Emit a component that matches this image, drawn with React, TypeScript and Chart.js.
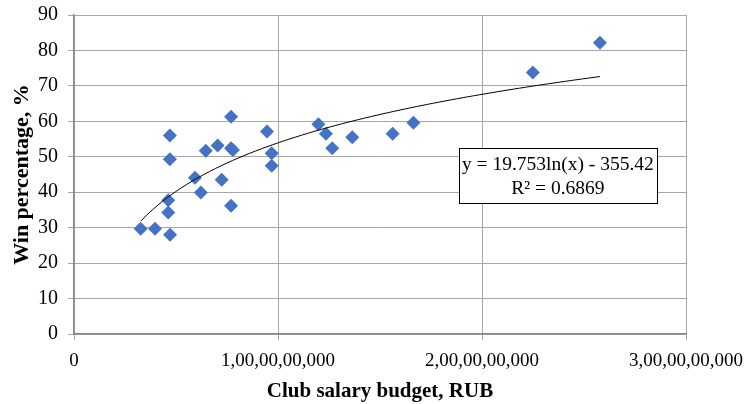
import React, { useEffect, useRef } from 'react';
import { Chart, registerables } from 'chart.js';

Chart.register(...registerables);

// Club salary budget (RUB) and win percentage (%)
const salaryBudget = [
  0.327e9, 0.397e9, 0.471e9, 0.462e9, 0.462e9, 0.470e9, 0.470e9, 0.593e9, 0.622e9,
  0.646e9, 0.704e9, 0.724e9, 0.770e9, 0.770e9, 0.779e9, 0.770e9, 0.946e9, 0.969e9,
  0.969e9, 1.198e9, 1.235e9, 1.266e9, 1.364e9, 1.562e9, 1.664e9, 2.249e9, 2.578e9,
];
const winPercentage = [
  29.7, 29.7, 28.0, 37.7, 34.3, 49.3, 56.0, 44.1, 39.9,
  51.7, 53.2, 43.5, 61.3, 52.4, 51.9, 36.2, 57.1, 51.0,
  47.5, 59.2, 56.5, 52.4, 55.5, 56.5, 59.6, 73.8, 82.2,
];

const xTickLabels = ['0', '1,00,00,00,000', '2,00,00,00,000', '3,00,00,00,000'];
const yTickLabels = ['0', '10', '20', '30', '40', '50', '60', '70', '80', '90'];

// Logarithmic trendline shown on the chart: y = a ln(x) + b
const trendA = 19.753;
const trendB = -355.42;
const trendText = ['y = 19.753ln(x) - 355.42', 'R² = 0.6869'];
const trendBoxAnchor = [1.887e9, 52.5]; // top-left corner of label box in data units

const FONT = "'Liberation Serif', 'Times New Roman', serif";

export default function App() {
  const ref = useRef<HTMLCanvasElement | null>(null);

  useEffect(() => {
    document.body.style.margin = '0';
    const canvas = ref.current;
    if (!canvas) return;

    const points = salaryBudget.map((x, i) => ({ x, y: winPercentage[i] }));
    const xMin = Math.min(...salaryBudget);
    const xMax = Math.max(...salaryBudget);
    const trend: { x: number; y: number }[] = [];
    const n = 80;
    for (let i = 0; i <= n; i++) {
      const x = xMin + ((xMax - xMin) * i) / n;
      trend.push({ x, y: trendA * Math.log(x) + trendB });
    }

    const labelBox = {
      id: 'labelBox',
      afterDatasetsDraw(chart: any) {
        const { ctx, scales } = chart;
        const left = scales.x.getPixelForValue(trendBoxAnchor[0]);
        const top = scales.y.getPixelForValue(trendBoxAnchor[1]);
        ctx.save();
        ctx.font = `19.5px ${FONT}`;
        const w = Math.max(...trendText.map((t) => ctx.measureText(t).width)) + 6;
        const lineH = 24;
        const h = lineH * trendText.length + 7;
        ctx.fillStyle = '#ffffff';
        ctx.fillRect(left, top, w, h);
        ctx.strokeStyle = '#000000';
        ctx.lineWidth = 1;
        ctx.strokeRect(Math.round(left) + 0.5, Math.round(top) + 0.5, Math.round(w), Math.round(h));
        ctx.fillStyle = '#000000';
        ctx.textAlign = 'center';
        ctx.textBaseline = 'middle';
        trendText.forEach((t, i) => {
          ctx.fillText(t, left + w / 2, top + 5 + lineH / 2 + i * lineH);
        });
        ctx.restore();
      },
    };

    const chart = new Chart(canvas, {
      type: 'scatter',
      data: {
        datasets: [
          {
            type: 'line',
            data: trend,
            borderColor: '#000000',
            borderWidth: 1,
            pointRadius: 0,
            fill: false,
            tension: 0,
          } as any,
          {
            data: points,
            pointStyle: 'rectRot',
            pointRadius: 7,
            backgroundColor: '#4472C4',
            borderColor: '#4472C4',
            borderWidth: 0,
          },
        ],
      },
      options: {
        animation: false,
        responsive: true,
        maintainAspectRatio: false,
        layout: { padding: { top: 15, right: 62, left: 0, bottom: 0 } },
        plugins: {
          legend: { display: false },
          tooltip: { enabled: false },
        },
        scales: {
          x: {
            type: 'linear',
            min: 0,
            max: 3e9,
            afterFit: (s: any) => {
              s.height = 70;
              s.paddingRight = 0;
              s.paddingLeft = 0;
            },
            ticks: {
              stepSize: 1e9,
              color: '#000000',
              font: { family: FONT, size: 19 },
              padding: 10,
              maxRotation: 0,
              callback: (_v: any, i: number) => xTickLabels[i],
            },
            grid: { color: '#a6a6a6', tickLength: 6, lineWidth: 1 },
            border: { color: '#868686', width: 1.5 },
            title: {
              display: true,
              text: 'Club salary budget, RUB',
              color: '#000000',
              font: { family: FONT, size: 21, weight: 'bold' },
              padding: { top: 0, bottom: 0 },
            },
          },
          y: {
            min: 0,
            max: 90,
            afterFit: (s: any) => {
              s.width = 74;
              s.paddingTop = 0;
              s.paddingBottom = 0;
            },
            ticks: {
              stepSize: 10,
              color: '#000000',
              font: { family: FONT, size: 20 },
              padding: 10,
              callback: (_v: any, i: number) => yTickLabels[i],
            },
            grid: { color: '#a6a6a6', tickLength: 6, lineWidth: 1 },
            border: { color: '#868686', width: 1.5 },
            title: {
              display: true,
              text: 'Win percentage, %',
              color: '#000000',
              font: { family: FONT, size: 22, weight: 'bold' },
              padding: { top: 9, bottom: 0 },
            },
          },
        },
      },
      plugins: [labelBox],
    });

    return () => chart.destroy();
  }, []);

  return (
    <div style={{ width: 748, height: 404, position: 'relative' }}>
      <canvas ref={ref} />
    </div>
  );
}
